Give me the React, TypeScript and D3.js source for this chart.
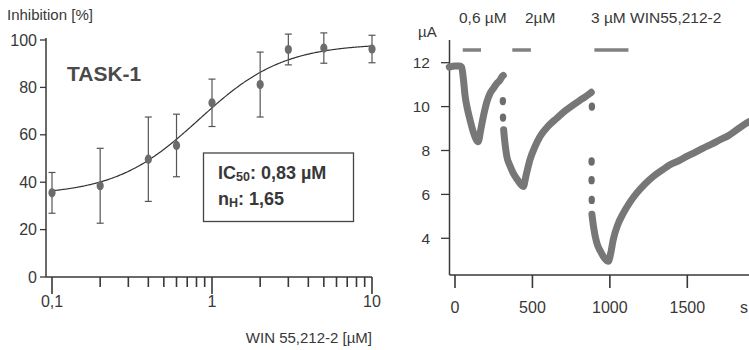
import React, { useEffect, useRef } from 'react';
import * as d3 from 'd3';

// Left panel: dose-response of TASK-1 to WIN 55,212-2
const concentrations = [0.1, 0.2, 0.4, 0.6, 1, 2, 3, 5, 10];
const inhibition = [35.5, 38.5, 49.7, 55.5, 73.5, 81.2, 96, 96.6, 96.2];
const inhibitionErr = [8.6, 15.8, 17.8, 13.2, 10, 13.7, 6.5, 6.4, 5.8];
const yTicksLeft = [0, 20, 40, 60, 80, 100];
const xMajorLeft = [0.1, 1, 10];
const xMajorLabels = ['0,1', '1', '10'];
// Hill fit shown in the box
const fitBottom = 34.5;
const fitTop = 98.5;
const ic50 = 0.83;
const hillN = 1.65;

// Right panel: current trace (time in s, current in µA)
const seg1Time = [-37, 0, 30, 43, 55, 65, 80, 97, 120, 150, 165, 183, 205, 226, 250, 269, 290, 305, 312];
const seg1Curr = [11.8, 11.85, 11.85, 11.8, 11.2, 10.5, 9.9, 9.4, 8.8, 8.4, 8.9, 9.55, 10.2, 10.6, 10.85, 11.05, 11.2, 11.38, 11.42];
const seg2Time = [314, 320, 334, 355, 376, 400, 420, 441, 460, 484, 515, 549, 600, 657, 710, 764, 820, 872, 880];
const seg2Curr = [8.95, 8.5, 7.75, 7.3, 6.97, 6.7, 6.5, 6.36, 6.9, 7.58, 8.15, 8.64, 9.1, 9.47, 9.8, 10.08, 10.35, 10.6, 10.65];
const seg3Time = [884, 895, 915, 940, 965, 990, 1005, 1022, 1050, 1087, 1130, 1173, 1230, 1281, 1340, 1388, 1450, 1496, 1550, 1603, 1660, 1711, 1770, 1819, 1883, 1910];
const seg3Curr = [5.1, 4.5, 3.8, 3.4, 3.1, 2.95, 3.3, 3.95, 4.6, 5.15, 5.65, 6.06, 6.5, 6.82, 7.12, 7.35, 7.55, 7.73, 7.92, 8.11, 8.3, 8.49, 8.7, 8.94, 9.25, 9.35];
// isolated samples during the fast jumps
const jumpTime = [309, 310, 884, 882, 882, 883];
const jumpCurr = [10.25, 9.5, 10.0, 7.5, 6.65, 5.75];
// drug application bars
const appStart = [50, 370, 900];
const appEnd = [168, 490, 1120];
const appLabels = ['0,6 µM', '2µM', '3 µM WIN55,212-2'];
const appLabelX = [459, 525, 591];
const yTicksRight = [4, 6, 8, 10, 12];
const xTicksRight = [0, 500, 1000, 1500];

const FONT = 'Liberation Sans, Arial, sans-serif';
const INK = '#383838';

const App = () => {
  const ref = useRef(null);

  useEffect(() => {
    const svg = d3.select(ref.current);
    svg.selectAll('*').remove();

    // ---------- left panel ----------
    const x = d3.scaleLog().domain([0.1, 10]).range([52, 372]);
    const y = d3.scaleLinear().domain([0, 100]).range([277, 40]);
    const L = svg.append('g');

    L.append('line').attr('x1', 46).attr('x2', 46).attr('y1', 38).attr('y2', 277)
      .attr('stroke', INK).attr('stroke-width', 1.5);
    L.append('line').attr('x1', 46).attr('x2', 372).attr('y1', 277).attr('y2', 277)
      .attr('stroke', INK).attr('stroke-width', 1.5);

    // y ticks
    yTicksLeft.forEach(v => {
      L.append('line').attr('x1', 40).attr('x2', 46).attr('y1', y(v)).attr('y2', y(v))
        .attr('stroke', INK).attr('stroke-width', 1.3);
      L.append('text').attr('x', 37).attr('y', y(v) + 5.5).attr('text-anchor', 'end')
        .attr('font-size', 16).attr('fill', INK).text(v);
    });

    // x ticks (log)
    const minor = [];
    [0.1, 1].forEach(dec => d3.range(2, 10).forEach(k => minor.push(dec * k)));
    minor.forEach(v => {
      L.append('line').attr('x1', x(v)).attr('x2', x(v)).attr('y1', 277).attr('y2', 287)
        .attr('stroke', INK).attr('stroke-width', 1.6);
    });
    xMajorLeft.forEach((v, i) => {
      L.append('line').attr('x1', x(v)).attr('x2', x(v)).attr('y1', 277).attr('y2', 294)
        .attr('stroke', INK).attr('stroke-width', 1.6);
      L.append('text').attr('x', x(v)).attr('y', 307).attr('text-anchor', 'middle')
        .attr('font-size', 16).attr('fill', INK).text(xMajorLabels[i]);
    });

    L.append('text').attr('x', 7).attr('y', 20).attr('font-size', 15).attr('fill', INK)
      .text('Inhibition [%]');
    L.append('text').attr('x', 372).attr('y', 343).attr('text-anchor', 'end')
      .attr('font-size', 15).attr('fill', INK).text('WIN 55,212-2 [µM]');

    L.append('text').attr('x', 67).attr('y', 81).attr('font-size', 21).attr('font-weight', 'bold')
      .attr('fill', '#4a4a4a').text('TASK-1');

    // fitted curve
    const hill = c => fitBottom + (fitTop - fitBottom) / (1 + Math.pow(ic50 / c, hillN));
    const curveX = d3.range(0, 201).map(i => Math.pow(10, -1 + i / 100));
    L.append('path')
      .attr('d', d3.line().x(c => x(c)).y(c => y(hill(c))).curve(d3.curveBasis)(curveX))
      .attr('fill', 'none').attr('stroke', '#333').attr('stroke-width', 1.2);

    // error bars + points
    concentrations.forEach((c, i) => {
      const cx = x(c);
      const top = y(inhibition[i] + inhibitionErr[i]);
      const bot = y(inhibition[i] - inhibitionErr[i]);
      L.append('line').attr('x1', cx).attr('x2', cx).attr('y1', top).attr('y2', bot)
        .attr('stroke', '#555').attr('stroke-width', 1.2);
      [top, bot].forEach(yy => {
        L.append('line').attr('x1', cx - 3.5).attr('x2', cx + 3.5).attr('y1', yy).attr('y2', yy)
          .attr('stroke', '#555').attr('stroke-width', 1.2);
      });
      L.append('ellipse').attr('cx', cx).attr('cy', y(inhibition[i])).attr('rx', 3.6).attr('ry', 4.6)
        .attr('fill', '#6c6c6c');
    });

    // parameter box
    L.append('rect').attr('x', 203.5).attr('y', 153).attr('width', 150).attr('height', 68.5)
      .attr('fill', 'white').attr('stroke', '#444').attr('stroke-width', 1.3);
    const t1 = L.append('text').attr('x', 218).attr('y', 179).attr('font-size', 18)
      .attr('font-weight', 'bold').attr('fill', INK);
    t1.append('tspan').text('IC');
    t1.append('tspan').attr('font-size', 12.5).attr('dy', 2).text('50');
    t1.append('tspan').attr('dy', -2).text(': 0,83 µM');
    const t2 = L.append('text').attr('x', 218).attr('y', 205).attr('font-size', 18)
      .attr('font-weight', 'bold').attr('fill', INK);
    t2.append('tspan').text('n');
    t2.append('tspan').attr('font-size', 12.5).attr('dy', 2).text('H');
    t2.append('tspan').attr('dy', -2).text(': 1,65');

    // ---------- right panel ----------
    const xr = d3.scaleLinear().domain([0, 1500]).range([455, 687.3]);
    const yr = d3.scaleLinear().domain([4, 12]).range([238.3, 62.7]);
    const R = svg.append('g');

    R.append('line').attr('x1', 449.5).attr('x2', 449.5).attr('y1', 40).attr('y2', 275)
      .attr('stroke', INK).attr('stroke-width', 1.5);
    R.append('line').attr('x1', 449.5).attr('x2', 749).attr('y1', 275).attr('y2', 275)
      .attr('stroke', INK).attr('stroke-width', 1.5);

    yTicksRight.forEach(v => {
      R.append('line').attr('x1', 441).attr('x2', 449.5).attr('y1', yr(v)).attr('y2', yr(v))
        .attr('stroke', INK).attr('stroke-width', 1.3);
      R.append('text').attr('x', 430).attr('y', yr(v) + 5.5).attr('text-anchor', 'end')
        .attr('font-size', 15.5).attr('fill', INK).text(v);
    });
    xTicksRight.forEach(v => {
      R.append('line').attr('x1', xr(v)).attr('x2', xr(v)).attr('y1', 275).attr('y2', 288)
        .attr('stroke', INK).attr('stroke-width', 1.6);
      R.append('text').attr('x', xr(v)).attr('y', 313).attr('text-anchor', 'middle')
        .attr('font-size', 16).attr('fill', INK).text(v);
    });
    R.append('text').attr('x', 740).attr('y', 313).attr('font-size', 16).attr('fill', INK).text('s');
    R.append('text').attr('x', 418).attr('y', 37).attr('font-size', 15).attr('fill', INK).text('µA');

    appLabels.forEach((lab, i) => {
      R.append('text').attr('x', appLabelX[i]).attr('y', 23).attr('font-size', 15.5)
        .attr('fill', INK).text(lab);
      R.append('line').attr('x1', xr(appStart[i])).attr('x2', xr(appEnd[i]))
        .attr('y1', 50).attr('y2', 50).attr('stroke', '#808080').attr('stroke-width', 3.5);
    });

    const trace = d3.line().x(d => xr(d[0])).y(d => yr(d[1])).curve(d3.curveMonotoneX);
    [[seg1Time, seg1Curr], [seg2Time, seg2Curr], [seg3Time, seg3Curr]].forEach(([ts, cs]) => {
      R.append('path').attr('d', trace(ts.map((t, i) => [t, cs[i]])))
        .attr('fill', 'none').attr('stroke', '#777').attr('stroke-width', 7)
        .attr('stroke-linecap', 'round').attr('stroke-linejoin', 'round');
    });
    jumpTime.forEach((t, i) => {
      R.append('ellipse').attr('cx', xr(t)).attr('cy', yr(jumpCurr[i])).attr('rx', 3.2).attr('ry', 4.2)
        .attr('fill', '#6c6c6c');
    });
  }, []);

  return (
    <div style={{ position: 'fixed', left: 0, top: 0, background: 'white' }}>
      <svg ref={ref} width={749} height={350} style={{ display: 'block', fontFamily: FONT }} />
    </div>
  );
};

export default App;
